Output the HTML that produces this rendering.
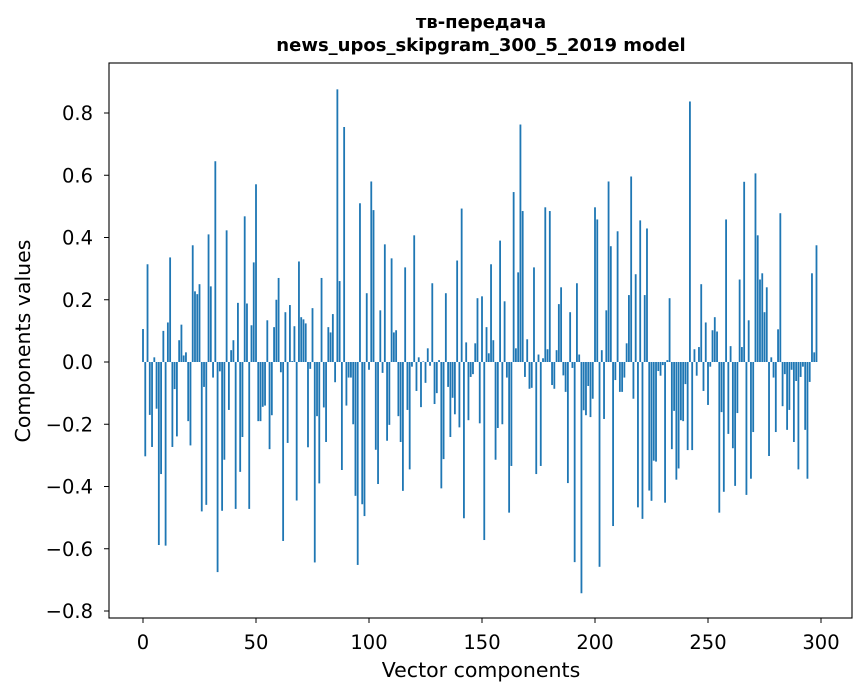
<!DOCTYPE html>
<html><head><meta charset="utf-8"><style>
html,body{margin:0;padding:0;background:#fff;}
svg{display:block;font-family:"DejaVu Sans","Liberation Sans",sans-serif;}
</style></head><body>
<svg id="chart" width="867" height="696" viewBox="0 0 867 696" xmlns="http://www.w3.org/2000/svg">
<rect width="867" height="696" fill="#fff"/>
<text x="481" y="28" text-anchor="middle" font-size="18" font-weight="bold">тв-передача</text>
<text x="481" y="51" text-anchor="middle" font-size="18" font-weight="bold">news_upos_skipgram_300_5_2019 model</text>
<g id="bars"></g>
<g id="axes"></g>
<text x="481" y="677" text-anchor="middle" font-size="20.5">Vector components</text>
<text transform="translate(30,341) rotate(-90)" text-anchor="middle" font-size="20.5">Components values</text>
</svg>
<script>
const values = [
0.106,-0.303,0.314,-0.17,-0.273,0.015,-0.15,-0.588,-0.36,0.10,
-0.59,0.127,0.336,-0.273,-0.087,-0.239,0.07,0.12,0.021,0.031,
-0.19,-0.268,0.375,0.227,0.218,0.25,-0.48,-0.08,-0.459,0.41,
0.243,-0.05,0.645,-0.675,-0.03,-0.478,-0.314,0.423,-0.154,0.038,
0.07,-0.472,0.19,-0.353,-0.241,0.468,0.188,-0.472,0.118,0.32,
0.571,-0.19,-0.19,-0.144,-0.14,0.134,-0.28,-0.171,0.112,0.2,
0.27,-0.033,-0.575,0.16,-0.26,0.183,0.003,0.115,-0.445,0.323,
0.144,0.137,0.124,-0.274,-0.022,0.173,-0.644,-0.174,-0.39,0.27,
-0.146,-0.257,0.112,0.095,0.154,-0.065,0.876,0.26,-0.347,0.755,
-0.14,-0.05,-0.05,-0.2,-0.43,-0.652,0.51,-0.457,-0.495,0.221,
-0.025,0.58,0.488,-0.282,-0.392,0.166,-0.035,0.378,-0.253,-0.202,
0.333,0.095,0.102,-0.174,-0.257,-0.414,0.304,-0.154,-0.345,-0.015,
0.407,-0.093,0.015,-0.145,0.002,-0.067,0.044,-0.012,0.253,-0.135,
-0.1,0.006,-0.406,-0.312,0.221,-0.08,-0.241,-0.115,-0.168,0.326,
-0.21,0.493,-0.502,0.063,-0.187,-0.048,-0.039,0.06,0.205,-0.197,
0.211,-0.572,0.112,0.028,0.314,0.07,-0.314,-0.212,0.39,-0.2,
0.195,-0.05,-0.484,-0.334,0.546,0.044,0.288,0.763,0.485,-0.048,
0.073,-0.086,-0.083,0.304,-0.36,0.024,-0.334,0.012,0.497,0.041,
0.485,-0.074,-0.086,0.038,0.186,0.24,-0.043,-0.096,-0.389,0.16,
-0.019,-0.643,0.253,0.024,-0.743,-0.155,-0.171,-0.077,-0.177,-0.118,
0.497,0.458,-0.658,0.038,-0.183,0.166,0.58,0.372,-0.527,-0.058,
0.42,-0.096,-0.096,-0.05,0.06,0.215,0.596,-0.118,0.282,-0.467,
0.455,-0.504,0.215,0.429,-0.413,-0.446,-0.317,-0.32,-0.029,-0.044,
-0.01,-0.452,0.006,0.205,-0.28,-0.157,-0.378,-0.342,-0.187,-0.19,
-0.071,-0.283,0.837,-0.283,0.041,-0.044,0.048,0.25,-0.093,0.127,
-0.138,-0.015,0.102,0.144,0.098,-0.484,-0.161,-0.417,0.458,-0.231,
0.051,-0.277,-0.398,-0.164,0.265,0.048,0.579,-0.427,0.134,-0.375,
-0.225,0.606,0.407,0.265,0.285,0.16,0.24,-0.302,0.015,-0.05,
-0.225,0.105,0.478,-0.142,-0.039,-0.218,-0.154,-0.025,-0.257,-0.061,
-0.345,-0.048,-0.015,-0.218,-0.375,-0.064,0.285,0.031,0.375
];
const xTicks = [0,50,100,150,200,250,300];
const yTicks = [-0.8,-0.6,-0.4,-0.2,0.0,0.2,0.4,0.6,0.8];
const yTickLabels = ["−0.8","−0.6","−0.4","−0.2","0.0","0.2","0.4","0.6","0.8"];

const NS = "http://www.w3.org/2000/svg";
const L = 109, R = 852, T = 63, B = 618;
function xs(v){ return 143 + v * 2.26; }
function ys(v){ return 362 - v * 311.25; }
const bw = 0.8 * 2.26;
const barsG = document.getElementById('bars');
values.forEach((v, i) => {
  const r = document.createElementNS(NS, 'rect');
  const y0 = ys(0), y1 = ys(v);
  r.setAttribute('x', (xs(i) - bw / 2).toFixed(2));
  r.setAttribute('y', Math.min(y0, y1).toFixed(2));
  r.setAttribute('width', bw.toFixed(2));
  r.setAttribute('height', Math.abs(y1 - y0).toFixed(2));
  r.setAttribute('fill', '#1f77b4');
  
  
  barsG.appendChild(r);
});
const ax = document.getElementById('axes');
const frame = document.createElementNS(NS, 'rect');
frame.setAttribute('x', L); frame.setAttribute('y', T);
frame.setAttribute('width', R - L); frame.setAttribute('height', B - T);
frame.setAttribute('fill', 'none'); frame.setAttribute('stroke', '#000'); frame.setAttribute('stroke-width', '1.1');


ax.appendChild(frame);
xTicks.forEach(t => {
  const x = xs(t);
  const l = document.createElementNS(NS, 'line');
  l.setAttribute('x1', x); l.setAttribute('x2', x); l.setAttribute('y1', B); l.setAttribute('y2', B + 5);
  l.setAttribute('stroke', '#000');
  
  
  ax.appendChild(l);
  const tx = document.createElementNS(NS, 'text');
  tx.setAttribute('x', x); tx.setAttribute('y', 649);
  tx.setAttribute('text-anchor', 'middle'); tx.setAttribute('font-size', '19.5');
  tx.textContent = String(t);
  
  
  ax.appendChild(tx);
});
yTicks.forEach((t, i) => {
  const y = ys(t);
  const l = document.createElementNS(NS, 'line');
  l.setAttribute('x1', L - 5); l.setAttribute('x2', L); l.setAttribute('y1', y); l.setAttribute('y2', y);
  l.setAttribute('stroke', '#000');
  
  
  ax.appendChild(l);
  const tx = document.createElementNS(NS, 'text');
  tx.setAttribute('x', 93); tx.setAttribute('y', y + 7);
  tx.setAttribute('text-anchor', 'end'); tx.setAttribute('font-size', '19.5');
  tx.textContent = yTickLabels[i];
  
  
  ax.appendChild(tx);
});
</script>
</body></html>
